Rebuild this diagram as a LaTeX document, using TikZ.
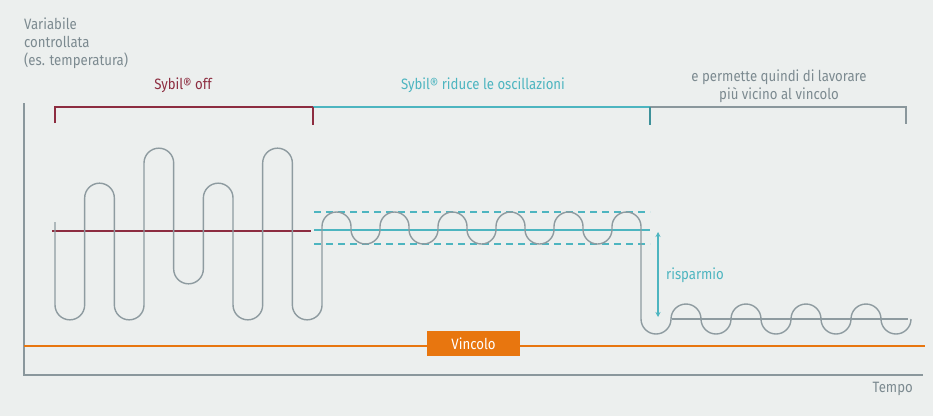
\documentclass[tikz,border=0pt]{standalone}
\usepackage{fontspec}
\setmainfont[FakeStretch=0.88]{Fira Sans}
\usetikzlibrary{positioning,arrows.meta}
\definecolor{bg}{HTML}{ECEFEE}
\definecolor{axisgray}{HTML}{8A979C}
\definecolor{wavegray}{HTML}{8E9BA0}
\definecolor{txtgray}{HTML}{7C8A90}
\definecolor{offred}{HTML}{8D2D40}
\definecolor{sybteal}{HTML}{4DB5C0}
\definecolor{limorange}{HTML}{E8760F}

\begin{document}
\begin{tikzpicture}[x=1pt,y=-1pt, font=\fontsize{15}{18}\selectfont,
  txt/.style={inner sep=0pt, text=txtgray},
  axis/.style={draw=axisgray, line width=1.3pt},
  wave/.style={draw=wavegray, line width=1.4pt, line join=round},
  setp/.style={line width=2pt},
  band/.style={draw=sybteal, line width=1.8pt, dash pattern=on 7pt off 5pt},
  tick/.style={line width=2.2pt},
  >={Stealth[length=5pt,width=5pt]}]

  \useasboundingbox (0,0) rectangle (933,416);
  \fill[bg] (0,0) rectangle (933,416);

  % axes
  \coordinate (yt) at (24,103);
  \coordinate (o) at (24,375);
  \coordinate (xe) at (923,375);
  \draw[axis] (yt) -- (o) -- (xe);
  \node[txt, align=left, anchor=north west] (yl) at (24,18)
    {Variabile\\controllata\\(es. temperatura)};
  \node[txt, anchor=base east] (tempo) at (913,392) {Tempo};

  % vincolo
  \coordinate (l0) at (24,346);
  \coordinate (l1) at (925,346);
  \draw[limorange, setp] (l0) -- (l1);
  \node[fill=limorange, text=white, minimum width=93pt, minimum height=25pt,
    inner sep=0pt] (vinc) at (473.5,343.5) {Vincolo};

  % headers
  \node[txt, text=offred, anchor=base] (off) at (183,89.5) {Sybil® off};
  \node[txt, text=sybteal, anchor=base] (rid) at (483,89.5) {Sybil® riduce le oscillazioni};
  \node[txt, align=center, anchor=base] (perm) at (779,99)
    {e permette quindi di lavorare\\più vicino al vincolo};

  \draw[offred, line width=1.5pt] (55,123) -- (55,107) -- (313,107);
  \draw[sybteal, line width=1.5pt] (313,107) -- (650,107);
  \draw[axisgray, line width=1.5pt] (650,107) -- (906,107) -- (906,124);
  \draw[offred, tick] (313,107) -- (313,125);
  \draw[sybteal!80!black, tick] (650,107) -- (650,125);

  % setpoints
  \draw[offred, setp] (52,231) -- (311,231);
  \draw[band] (314,212) -- (650,212);
  \draw[band] (314,244) -- (650,244);
  \draw[sybteal, setp] (314,230) -- (650,230);
  \draw[wavegray, line width=1.6pt] (672,319) -- (908,319);

  % the wave
  \draw[wave] (55,222)
    \foreach \i/\e/\s in {0/305/360,1/198/0,2/305/360,3/163/0,4/269/360,
                          5/198/0,6/305/360,7/163/0,8/305/360}
      { -- ({55+29.67*\i},\e) arc[start angle=180,end angle=\s,radius=14.835pt] }
    \foreach \k/\c/\s in {0/226.5/0,1/229.5/360,2/226.5/0,3/229.5/360,
                          4/226.5/0,5/229.5/360,6/226.5/0,7/229.5/360,
                          8/226.5/0,9/229.5/360,10/226.5/0}
      { -- ({322+29*\k},\c) arc[start angle=180,end angle=\s,radius=14.5pt] }
    \foreach \k/\s in {0/360,1/0,2/360,3/0,4/360,5/0,6/360,7/0,8/360}
      { -- ({641+30*\k},319) arc[start angle=180,end angle=\s,radius=15pt] };

  % risparmio
  \coordinate (sav1) at (658,232);
  \coordinate (sav2) at (658,317);
  \draw[sybteal, line width=1.5pt, <->] (sav1) -- (sav2);
  \node[txt, text=sybteal, anchor=base west] (risp) at (666,279) {risparmio};
\end{tikzpicture}
\end{document}
